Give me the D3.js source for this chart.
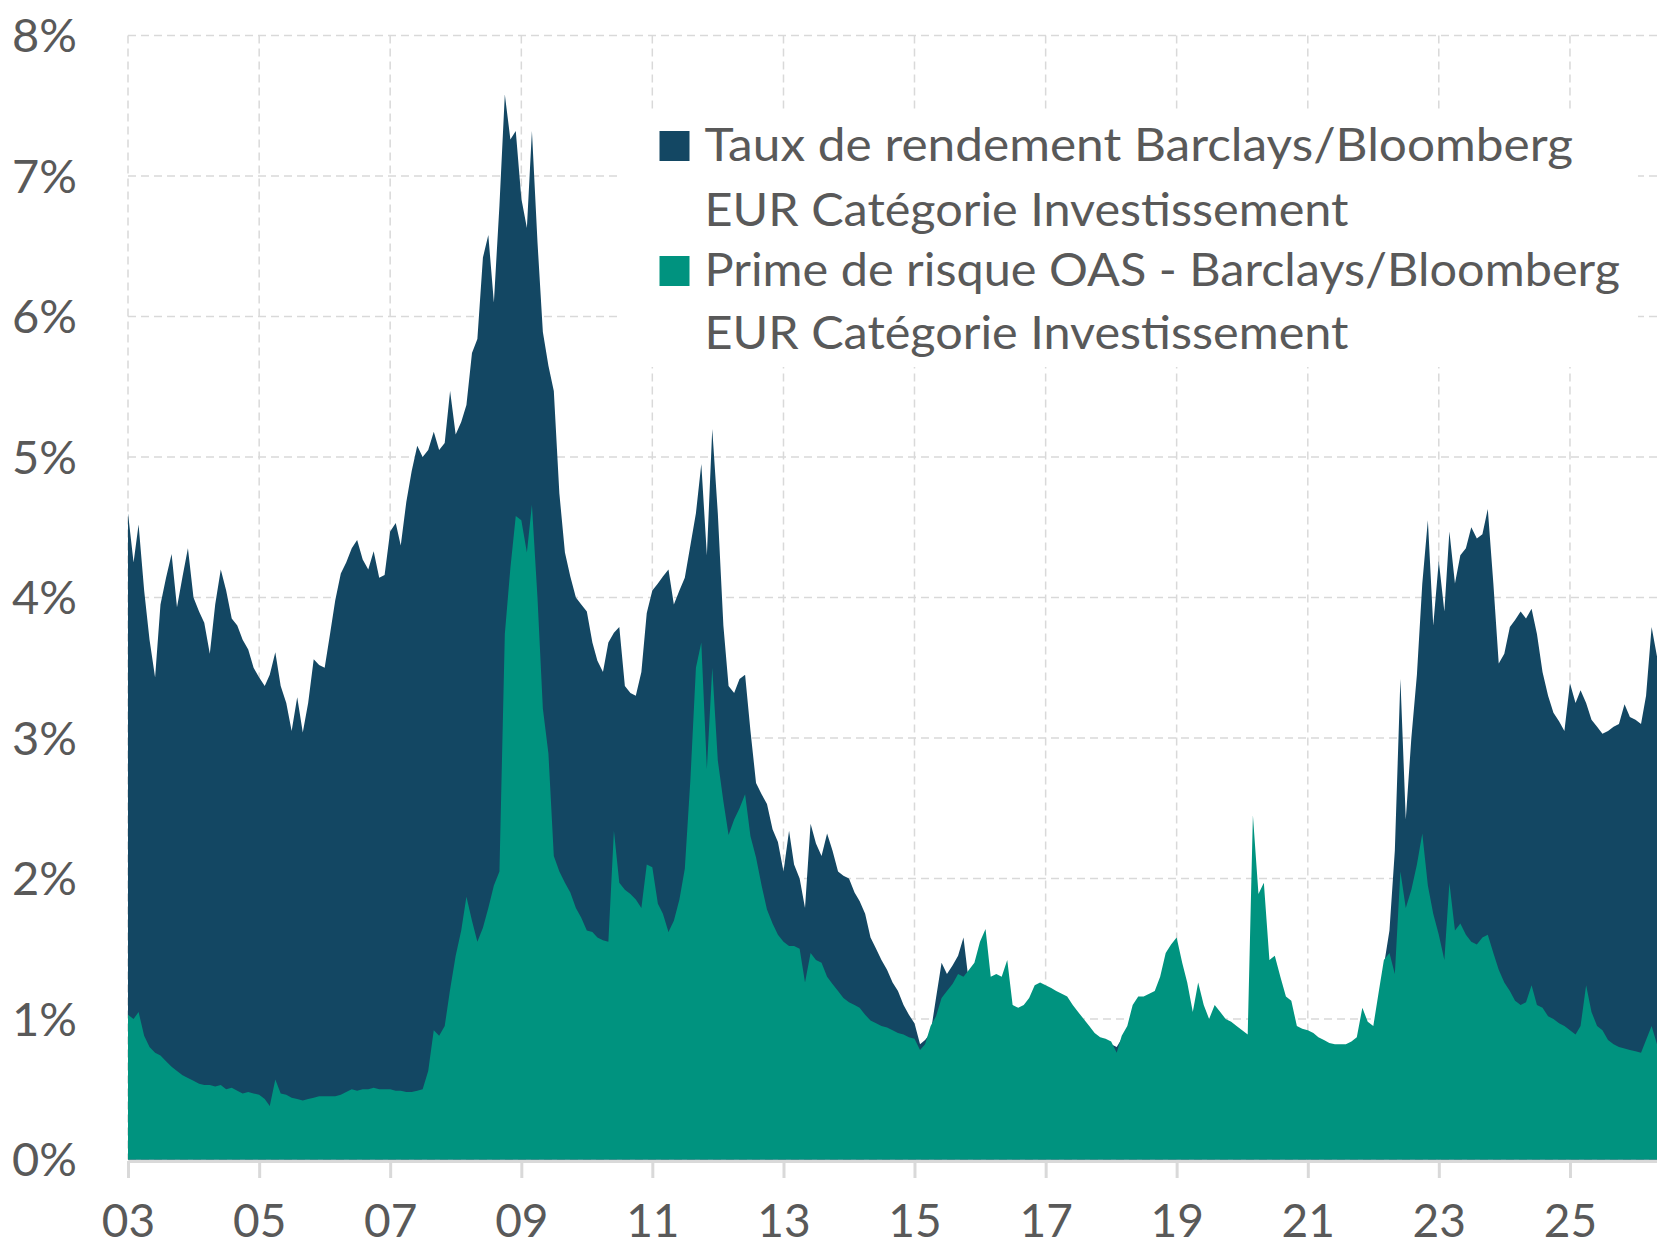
<!DOCTYPE html>
<html><head><meta charset="utf-8">
<script src="https://cdn.jsdelivr.net/npm/d3@7"></script>
<style>html,body{margin:0;padding:0;background:#fff;}svg{display:block;}</style>
</head><body><svg id="chart" width="1657" height="1248"></svg>
<script>
// ---- data (monthly, starting Jan 2003) ----
const startMonth = [2003, 0];
const yieldVals = [
  4.60,4.25,4.52,4.05,3.70,3.43,3.95,4.14,4.31,3.93,4.15,4.35,
  4.00,3.90,3.82,3.60,3.95,4.20,4.05,3.85,3.80,3.70,3.63,3.50,
  3.43,3.37,3.45,3.61,3.37,3.25,3.05,3.29,3.04,3.25,3.56,3.52,
  3.50,3.75,3.98,4.17,4.25,4.35,4.41,4.27,4.20,4.33,4.14,4.16,
  4.47,4.53,4.37,4.68,4.90,5.08,5.00,5.05,5.18,5.05,5.10,5.47,
  5.16,5.25,5.37,5.74,5.84,6.42,6.58,6.10,6.79,7.58,7.26,7.32,
  6.84,6.63,7.32,6.53,5.89,5.65,5.47,4.74,4.32,4.15,4.00,3.95,
  3.90,3.68,3.55,3.47,3.68,3.75,3.79,3.37,3.32,3.30,3.47,3.89,
  4.05,4.10,4.15,4.20,3.95,4.05,4.14,4.37,4.60,4.95,4.30,5.20,
  4.60,3.80,3.37,3.32,3.42,3.45,3.05,2.68,2.60,2.53,2.35,2.26,
  2.05,2.34,2.10,2.00,1.79,2.39,2.25,2.16,2.32,2.20,2.05,2.02,
  2.00,1.90,1.84,1.75,1.58,1.50,1.42,1.35,1.26,1.20,1.10,1.03,
  0.97,0.82,0.85,0.90,1.15,1.40,1.32,1.38,1.45,1.58,1.25,1.20,
  1.20,1.25,1.05,1.00,1.00,0.95,0.75,0.70,0.70,0.80,0.95,0.90,
  1.00,1.05,1.10,1.00,0.95,0.95,0.98,0.92,0.90,0.85,0.82,0.83,
  0.82,0.80,0.86,0.88,1.05,1.10,1.05,1.12,1.10,1.20,1.30,1.40,
  1.30,1.20,1.05,0.95,0.90,0.65,0.55,0.40,0.50,0.55,0.55,0.60,
  0.45,0.40,1.60,1.40,1.10,0.90,0.70,0.60,0.55,0.50,0.40,0.30,
  0.30,0.35,0.45,0.50,0.55,0.45,0.40,0.40,0.50,0.60,0.55,0.65,
  0.60,1.05,1.38,1.63,2.20,3.42,2.42,3.00,3.45,4.10,4.55,3.80,
  4.26,3.90,4.47,4.10,4.30,4.35,4.50,4.42,4.45,4.63,4.10,3.53,
  3.60,3.79,3.84,3.90,3.85,3.92,3.74,3.47,3.30,3.18,3.12,3.05,
  3.39,3.25,3.34,3.25,3.13,3.08,3.03,3.05,3.08,3.10,3.24,3.15,
  3.13,3.10,3.30,3.79,3.58
];
const spreadVals = [
  1.03,1.00,1.05,0.88,0.80,0.76,0.74,0.70,0.66,0.63,0.60,0.58,
  0.56,0.54,0.53,0.53,0.52,0.53,0.50,0.51,0.49,0.47,0.48,0.47,
  0.46,0.43,0.38,0.57,0.47,0.46,0.44,0.43,0.42,0.43,0.44,0.45,
  0.45,0.45,0.45,0.46,0.48,0.50,0.49,0.50,0.50,0.51,0.50,0.50,
  0.50,0.49,0.49,0.48,0.48,0.49,0.50,0.63,0.92,0.88,0.95,1.21,
  1.45,1.63,1.87,1.70,1.55,1.65,1.79,1.95,2.05,3.74,4.21,4.58,
  4.55,4.32,4.66,4.00,3.21,2.89,2.16,2.05,1.97,1.90,1.79,1.72,
  1.63,1.62,1.58,1.56,1.55,2.34,1.97,1.92,1.89,1.85,1.79,2.10,
  2.08,1.82,1.75,1.62,1.70,1.85,2.07,2.70,3.50,3.68,2.78,3.50,
  2.84,2.55,2.31,2.42,2.50,2.60,2.30,2.15,1.95,1.78,1.68,1.60,
  1.55,1.52,1.52,1.50,1.26,1.47,1.42,1.40,1.30,1.25,1.20,1.15,
  1.12,1.10,1.08,1.03,0.99,0.97,0.95,0.94,0.92,0.90,0.89,0.87,
  0.86,0.78,0.82,0.95,1.02,1.15,1.20,1.25,1.32,1.30,1.35,1.40,
  1.55,1.64,1.30,1.32,1.30,1.42,1.10,1.08,1.10,1.15,1.24,1.26,
  1.24,1.22,1.20,1.18,1.16,1.10,1.05,1.00,0.95,0.90,0.87,0.86,
  0.84,0.76,0.88,0.95,1.10,1.16,1.16,1.18,1.20,1.30,1.47,1.53,
  1.58,1.40,1.26,1.05,1.26,1.10,1.00,1.10,1.05,1.00,0.98,0.95,
  0.92,0.89,2.45,1.89,1.97,1.42,1.45,1.30,1.16,1.13,0.95,0.93,
  0.92,0.90,0.87,0.85,0.83,0.82,0.82,0.82,0.84,0.87,1.08,0.98,
  0.95,1.20,1.42,1.47,1.32,2.05,1.79,1.92,2.10,2.32,1.95,1.75,
  1.60,1.42,1.97,1.63,1.68,1.60,1.55,1.53,1.58,1.60,1.47,1.35,
  1.26,1.20,1.13,1.10,1.12,1.24,1.10,1.08,1.02,1.00,0.97,0.95,
  0.92,0.89,0.95,1.24,1.05,0.95,0.92,0.85,0.82,0.80,0.79,0.78,
  0.77,0.76,0.85,0.95,0.82
];
const yTickVals = [0,1,2,3,4,5,6,7,8];
const xTickYears = [2003,2005,2007,2009,2011,2013,2015,2017,2019,2021,2023,2025];
const seriesLabels = [
  ["Taux de rendement Barclays/Bloomberg", "EUR Catégorie Investissement"],
  ["Prime de risque OAS - Barclays/Bloomberg", "EUR Catégorie Investissement"]
];
const seriesColors = ["#134763", "#00937f"];

// ---- build ----
const svg = d3.select("#chart");
const W = 1657, H = 1248;
const FONT = "Lato, 'Open Sans', sans-serif";
const TXT = "#595959";
const GRID = "#d9d9d9";

const start = new Date(startMonth[0], startMonth[1], 1);
const yieldData = yieldVals.map((v,i)=>({date:d3.timeMonth.offset(start,i), v}));
const spreadData = spreadVals.map((v,i)=>({date:d3.timeMonth.offset(start,i), v}));

const x = d3.scaleTime()
  .domain([start, d3.timeMonth.offset(start, yieldVals.length-1)])
  .range([128, W]);
const y = d3.scaleLinear().domain([0,8]).range([1159.5, 35.5]);

// gridlines
const g = svg.append("g");
g.selectAll(".hg").data(yTickVals).join("line")
  .attr("x1", x.range()[0]).attr("x2", W)
  .attr("y1", d=>y(d)).attr("y2", d=>y(d))
  .attr("stroke", GRID).attr("stroke-width", 1.5).attr("stroke-dasharray", "8,5");
const tickDates = xTickYears.map(yr=>new Date(yr,0,1));
g.selectAll(".vg").data(tickDates).join("line")
  .attr("x1", d=>x(d)).attr("x2", d=>x(d))
  .attr("y1", y(8)).attr("y2", y(0))
  .attr("stroke", GRID).attr("stroke-width", 1.5).attr("stroke-dasharray", "8,5");

// areas
const area = d3.area().x(d=>x(d.date)).y0(y(0)).y1(d=>y(d.v));
svg.append("path").datum(yieldData).attr("d", area).attr("fill", seriesColors[0]);
svg.append("path").datum(spreadData).attr("d", area).attr("fill", seriesColors[1]);

// x axis
const xAxis = d3.axisBottom(x).tickValues(tickDates)
  .tickFormat(d3.timeFormat("%y")).tickSize(17).tickSizeOuter(0);
const ax = svg.append("g").attr("transform", `translate(0,${1161})`).call(xAxis);
ax.select(".domain").attr("stroke", GRID).attr("stroke-width", 3);
ax.selectAll(".tick line").attr("stroke", GRID).attr("stroke-width", 3);
ax.selectAll(".tick text").attr("fill", TXT).attr("font-family", FONT)
  .attr("font-size", 46).attr("y", 76).attr("dy", 0);

// y labels
svg.append("g").selectAll("text").data(yTickVals).join("text")
  .attr("x", 77).attr("y", d=>y(d)).attr("dy", "0.36em")
  .attr("text-anchor", "end").attr("fill", TXT)
  .attr("font-family", FONT).attr("font-size", 47)
  .text(d=>d3.format("d")(d)+"%");

// legend
const lg = svg.append("g");
lg.append("rect").attr("x", 620).attr("y", 113).attr("width", 1018).attr("height", 254).attr("fill", "#fff");
const legendRows = [
  {sq:131, lines:[161, 225.7], widths:[868.5, 644]},
  {sq:256, lines:[285.5, 349], widths:[915.5, 644]}
];
seriesLabels.forEach((lab,i)=>{
  const r = legendRows[i];
  lg.append("rect").attr("x", 659.5).attr("y", r.sq).attr("width", 30).attr("height", 30)
    .attr("fill", seriesColors[i]);
  lab.forEach((t,j)=>{
    lg.append("text").attr("x", 704.5).attr("y", r.lines[j])
      .attr("font-family", FONT).attr("font-size", 46).attr("fill", TXT)
      .attr("textLength", r.widths[j]).attr("lengthAdjust", "spacingAndGlyphs")
      .text(t);
  });
});
</script></body></html>
